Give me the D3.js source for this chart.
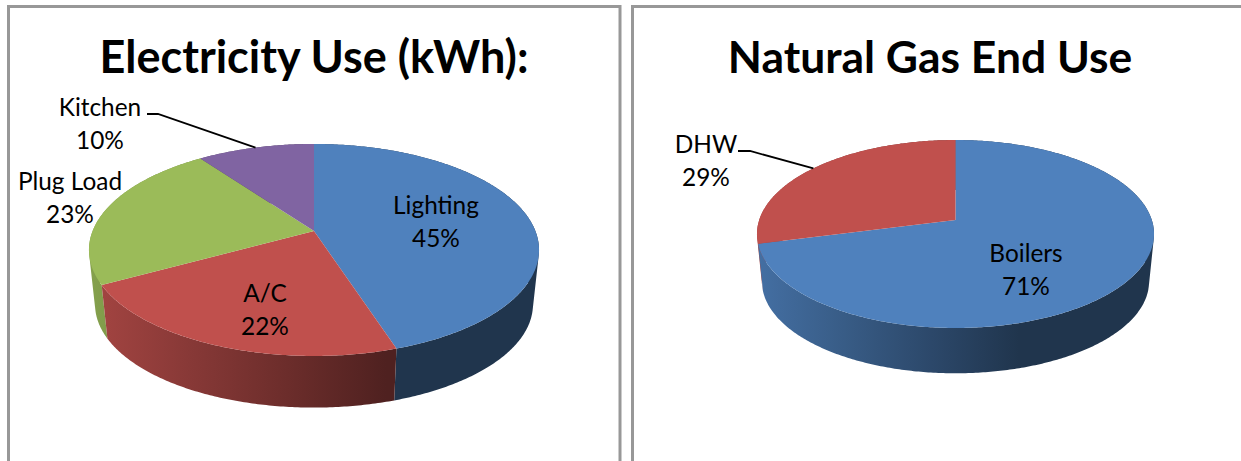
<!DOCTYPE html>
<html>
<head>
<meta charset="utf-8">
<script src="https://cdn.jsdelivr.net/npm/d3@7/dist/d3.min.js"></script>
<style>
  html, body { margin: 0; padding: 0; background: #fff; overflow: hidden; }
  text { font-family: Lato, "Open Sans", sans-serif; fill: #000; }
</style>
</head>
<body>
<svg id="chart" width="1241" height="461"></svg>
<script>
// Electricity end uses
const electricityCategories = ["Lighting", "A/C", "Plug Load", "Kitchen"];
const electricityValues = [45, 22, 23, 10];
const electricityColors = ["#4f81bd", "#c0504d", "#9bbb59", "#8064a2"];

// Natural gas end uses
const gasCategories = ["Boilers", "DHW"];
const gasValues = [71, 29];
const gasColors = ["#4f81bd", "#c0504d"];

const panels = [
  {
    title: "Electricity Use (kWh):", titleX: 314, titleSize: 45,
    frame: { x: 8.5, y: 6.5, w: 611.5, h: 470 },
    categories: electricityCategories, values: electricityValues, colors: electricityColors,
    pie: { cx: 314, cy: 231, a: 221.4, b: 102.6, k: 0.179, depth: 55, shrink: 0.973 },
    labels: [[436, 206], [265, 294], [70, 182], [100, 108]],
    leaders: { 3: [147, 114, 158] }
  },
  {
    title: "Natural Gas End Use", titleX: 930, titleSize: 44.4,
    frame: { x: 632.5, y: 6.5, w: 640, h: 470 },
    categories: gasCategories, values: gasValues, colors: gasColors,
    pie: { cx: 955.5, cy: 220, a: 196.3, b: 91.9, k: 0.149, depth: 48, shrink: 0.975 },
    labels: [[1026, 254], [706, 145]],
    leaders: { 1: [738, 151, 750] }
  }
];

const svg = d3.select("#chart");
const defs = svg.append("defs");
const pieLayout = d3.pie().sort(null).value(d => d);
const pathLine = d3.line();

// Tilted disc: a circle seen in perspective, so the centre sits above the ellipse middle.
function project(p, angle, scale, dy) {
  const u = Math.sin(angle), v = Math.cos(angle), w = 1 + p.k * v;
  return [p.cx + scale * p.a * u / w, p.cy + dy - scale * p.b * v / w];
}

// Points along a slice's rim.
function rim(p, start, end, scale, dy) {
  const n = Math.max(2, Math.ceil((end - start) * 90));
  const t = d3.scaleLinear().domain([0, n]).range([start, end]);
  return d3.range(n + 1).map(i => project(p, t(i), scale, dy));
}

// A wall is a run of small quads between the two rims, all wound the same way
// so that one fill covers them without seams.
function wallPath(top, bottom) {
  let path = "";
  for (let i = 0; i < top.length - 1; i++) {
    const quad = [top[i], top[i + 1], bottom[i + 1], bottom[i]];
    if (d3.polygonArea(quad) < 0) quad.reverse();
    path += pathLine(quad) + "Z";
  }
  return path;
}

// Side wall shading runs from a lit left edge to a dark plateau.
const shade = d3.scaleLinear().domain([0, 0.66, 1]).range([0.86, 0.41, 0.41]);

panels.forEach((panel, pi) => {
  const p = panel.pie;
  const g = svg.append("g");

  g.append("rect")
    .attr("x", panel.frame.x).attr("y", panel.frame.y)
    .attr("width", panel.frame.w).attr("height", panel.frame.h)
    .attr("fill", "#fff").attr("stroke", "#989898").attr("stroke-width", 3);

  g.append("text")
    .attr("x", panel.titleX).attr("y", 73)
    .attr("text-anchor", "middle")
    .attr("font-size", panel.titleSize).attr("font-weight", 700)
    .text(panel.title);

  const arcs = pieLayout(panel.values);
  const halfWidth = p.a / Math.sqrt(1 - p.k * p.k);

  // Gradient per slice colour, spanning the disc's full width.
  arcs.forEach((d, i) => {
    const id = `wall-${pi}-${i}`;
    const grad = defs.append("linearGradient").attr("id", id)
      .attr("gradientUnits", "userSpaceOnUse")
      .attr("x1", p.cx - halfWidth).attr("x2", p.cx + halfWidth)
      .attr("y1", 0).attr("y2", 0);
    [0, 0.22, 0.44, 0.66, 1].forEach(f => {
      const c = d3.rgb(panel.colors[i]);
      const s = shade(f);
      grad.append("stop").attr("offset", f)
        .attr("stop-color", d3.rgb(c.r * s, c.g * s, c.b * s).formatHex());
    });
  });

  // Walls, back to front.
  const order = d3.range(arcs.length).sort((a, b) => {
    const mid = i => Math.abs((arcs[i].startAngle + arcs[i].endAngle) / 2 - Math.PI);
    return mid(b) - mid(a);
  });
  order.forEach(i => {
    const d = arcs[i];
    const top = rim(p, d.startAngle, d.endAngle, 1, 0);
    const bottom = rim(p, d.startAngle, d.endAngle, p.shrink, p.depth);
    g.append("path")
      .attr("d", wallPath(top, bottom))
      .attr("fill", `url(#wall-${pi}-${i})`);
  });

  // Top faces.
  arcs.forEach((d, i) => {
    const pts = [[p.cx, p.cy]].concat(rim(p, d.startAngle, d.endAngle, 1, 0));
    g.append("path")
      .attr("d", pathLine(pts) + "Z")
      .attr("fill", panel.colors[i]);
  });

  // Leader lines reach the rim at each slice's middle angle.
  Object.entries(panel.leaders).forEach(([i, [x0, y0, x1]]) => {
    const d = arcs[+i];
    const end = project(p, (d.startAngle + d.endAngle) / 2, 1, 0);
    g.append("path")
      .attr("d", pathLine([[x0, y0], [x1, y0], end]))
      .attr("fill", "none").attr("stroke", "#000").attr("stroke-width", 1.8);
  });

  // Two-line labels: name and percentage.
  panel.labels.forEach(([x, y], i) => {
    const label = g.append("text").attr("text-anchor", "middle").attr("font-size", 24.4);
    label.append("tspan").attr("x", x).attr("y", y + 8).text(panel.categories[i]);
    label.append("tspan").attr("x", x).attr("y", y + 41).text(panel.values[i] + "%");
  });
});
</script>
</body>
</html>
